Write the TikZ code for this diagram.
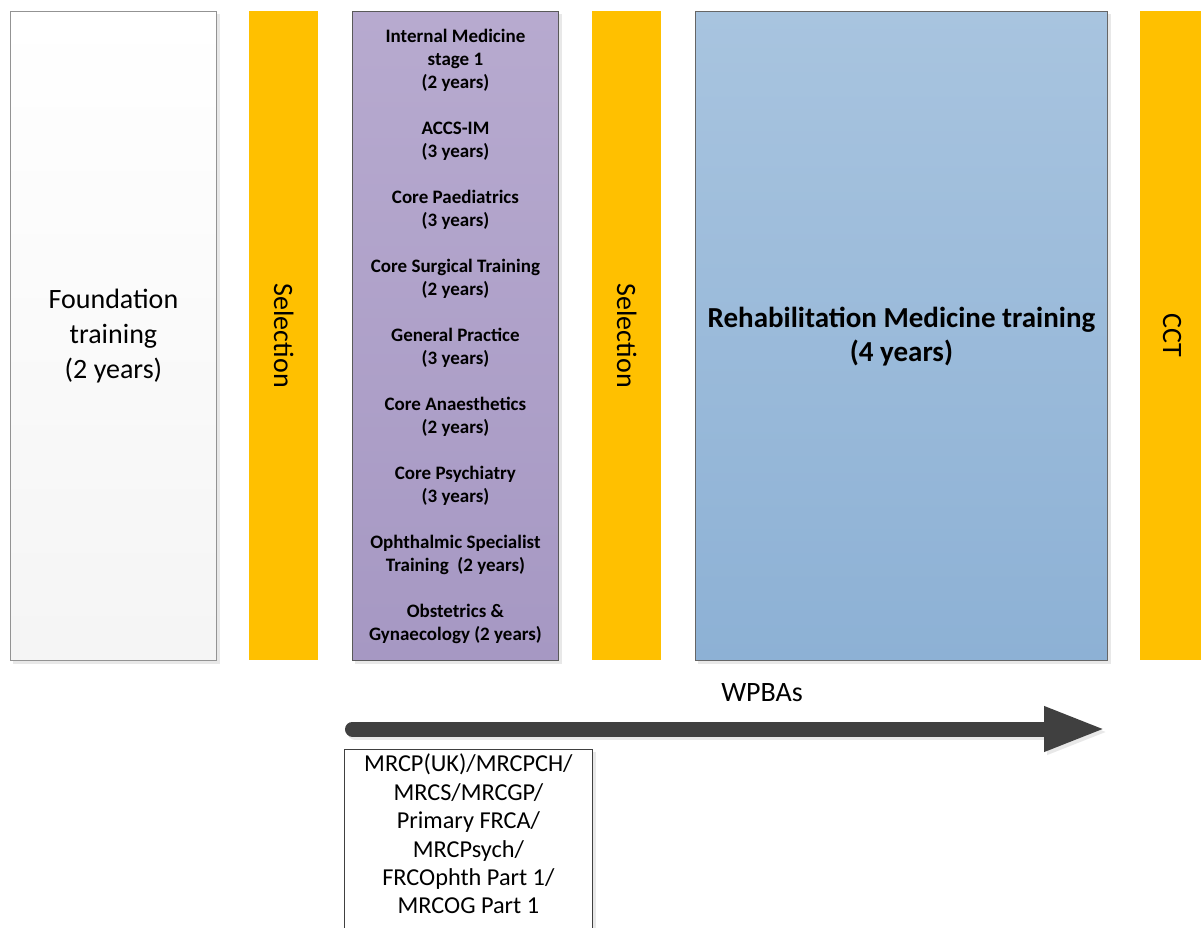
\documentclass[tikz,border=0pt]{standalone}
\usepackage{fontspec}
\setmainfont{Carlito}
\usetikzlibrary{arrows.meta}
\definecolor{selorange}{HTML}{FFC000}
\definecolor{purtop}{HTML}{B7AACF}
\definecolor{purbot}{HTML}{A698C3}
\definecolor{blutop}{HTML}{A8C4DF}
\definecolor{blubot}{HTML}{8DB1D5}
\definecolor{arrowgray}{HTML}{404040}
\definecolor{shadowgray}{HTML}{E8E8E8}
\begin{document}
\begin{tikzpicture}[x=1pt,y=-1pt,
  colbox/.style={inner sep=0pt, anchor=north west, align=center, minimum height=649pt, line width=0.9pt},
  selbar/.style={fill=selorange, inner sep=0pt, anchor=north west, minimum width=69pt, minimum height=649pt},
  bigtext/.style={font=\fontsize{28}{35}\selectfont, align=center},
  seltext/.style={font=\fontsize{28}{34}\selectfont, rotate=-90},
  purtext/.style={font=\bfseries\fontsize{19}{23}\selectfont, align=center},
  examtext/.style={font=\fontsize{24.3}{28.4}\selectfont, align=center, anchor=north, inner sep=0pt}
]
\useasboundingbox (0,0) rectangle (1201,928);
\fill[white] (0,0) rectangle (1201,928);
% shadows
\fill[shadowgray] (13,14) rectangle (220,664);
\fill[shadowgray] (355,14) rectangle (562,664);
\fill[shadowgray] (698,14) rectangle (1111,664);
\fill[shadowgray] (347,752) rectangle (596,935);
% foundation
\node[colbox, minimum width=206pt, draw=gray!85, top color=white, bottom color=gray!8] (found) at (10,11) {};
\node[bigtext] (foundtxt) at (found.center) {Foundation\\training\\(2 years)};
% selection 1
\node[selbar] (sel1) at (249,11) {};
\node[seltext] (sel1txt) at (sel1.center) {Selection};
% core training
\node[colbox, minimum width=206pt, draw=black!65, top color=purtop, bottom color=purbot] (core) at (352,11) {};
\node[purtext] (coretxt) at (core.center) {Internal Medicine\\stage 1\\(2 years)\\[23pt]
ACCS-IM\\(3 years)\\[23pt]
Core Paediatrics\\(3 years)\\[23pt]
Core Surgical Training\\(2 years)\\[23pt]
General Practice\\(3 years)\\[23pt]
Core Anaesthetics\\(2 years)\\[23pt]
Core Psychiatry\\(3 years)\\[23pt]
Ophthalmic Specialist\\Training~ (2 years)\\[23pt]
Obstetrics \&\\Gynaecology (2 years)};
% selection 2
\node[selbar] (sel2) at (592,11) {};
\node[seltext] (sel2txt) at (sel2.center) {Selection};
% rehab
\node[colbox, minimum width=412pt, draw=black!60, top color=blutop, bottom color=blubot] (rehab) at (695,11) {};
\node[bigtext, font=\bfseries\fontsize{29}{34}\selectfont] (rehabtxt) at ([yshift=-1pt]rehab.center) {Rehabilitation Medicine training\\(4 years)};
% CCT
\node[selbar, minimum width=70pt] (cct) at (1140,11) {};
\node[seltext] (ccttxt) at ([xshift=-3pt]cct.center) {CCT};
% arrow
\coordinate (arrshs) at (355,732);
\coordinate (arrshe) at (1109,732);
\draw[line width=15pt, shadowgray, line cap=round, -{Triangle[length=62pt,width=41pt]}] (arrshs) -- (arrshe);
\coordinate (arrs) at (352.5,729);
\coordinate (arre) at (1106,729);
\draw[line width=15pt, arrowgray, line cap=round, -{Triangle[length=62pt,width=41pt]}] (arrs) -- (arre);
\node[font=\fontsize{28}{34}\selectfont] (wpba) at (762,693) {WPBAs};
% exams
\node[draw=black!75, fill=white, line width=0.8pt, anchor=north west, minimum width=248pt, minimum height=190pt, inner sep=0pt] (exam) at (344,749) {};
\node[examtext] (examtxt) at ([yshift=-5pt]exam.north) {MRCP(UK)/MRCPCH/\\MRCS/MRCGP/\\Primary FRCA/\\MRCPsych/\\FRCOphth Part 1/\\MRCOG Part 1};
\end{tikzpicture}
\end{document}
